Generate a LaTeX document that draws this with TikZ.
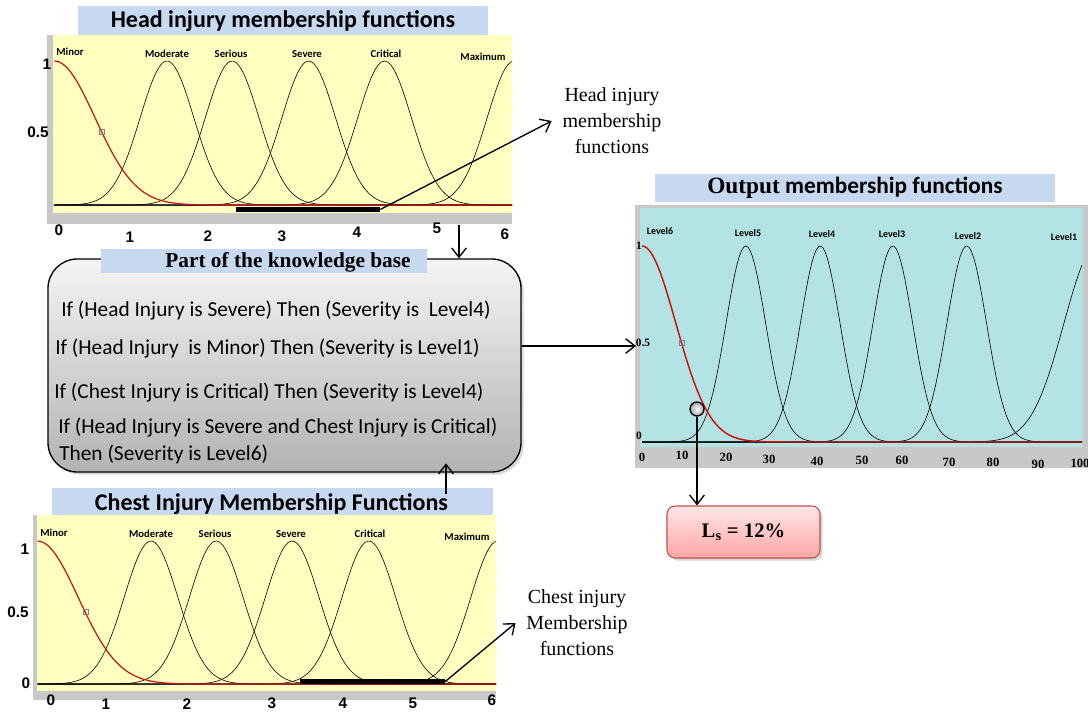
\documentclass[tikz,border=0pt]{standalone}
\usepackage{fontspec}
\setmainfont{Liberation Serif}
\newfontfamily\calibri{Carlito}
\newfontfamily\arial{Liberation Sans}
\usetikzlibrary{arrows.meta,shadows}

\definecolor{plotyellow}{HTML}{FFFFC0}
\definecolor{plotteal}{HTML}{B3E3E3}
\definecolor{framegray}{HTML}{C8C8C8}
\definecolor{barblue}{HTML}{C6D9F1}
\definecolor{curvered}{HTML}{CC1010}
\definecolor{lsred}{HTML}{C0504D}

\tikzset{
  px/.style={x=0.75pt,y=-0.75pt},
  titlebar/.style={fill=barblue, inner sep=0pt, font=\calibri\bfseries\fontsize{18}{21}\selectfont},
  mflabel/.style={font=\calibri\bfseries\fontsize{8}{9}\selectfont, inner sep=0pt},
  lvlabel/.style={font=\calibri\bfseries\fontsize{7.5}{9}\selectfont, inner sep=0pt},
  ticknum/.style={font=\arial\bfseries\fontsize{11.5}{13}\selectfont, inner sep=0pt},
  outnum/.style={font=\bfseries\fontsize{8.5}{10}\selectfont, inner sep=0pt},
  rule/.style={font=\calibri\fontsize{16}{19}\selectfont, anchor=base west, inner sep=0pt},
  note/.style={font=\fontsize{15}{19.5}\selectfont, align=center, inner xsep=8pt, inner ysep=2pt},
  mfline/.style={black, line width=0.45pt},
  redcurve/.style={curvered, line width=0.9pt},
  pointer/.style={-{Straight Barb[length=7pt,width=11pt]}, line width=1pt},
  memberbar/.style={fill=black, inner sep=0pt},
  kbbox/.style={draw, line width=1pt, rounded corners=22pt, top color=gray!8, bottom color=gray!60,
    drop shadow={opacity=0.3, shadow xshift=2pt, shadow yshift=-2pt}},
  lsbox/.style={draw=lsred, line width=0.8pt, rounded corners=6pt, top color=red!10, bottom color=red!35,
    drop shadow={opacity=0.3, shadow xshift=2pt, shadow yshift=-2pt}, font=\bfseries\fontsize{15.5}{18}\selectfont},
  marker/.style={circle, draw, line width=1pt, inner sep=0pt, minimum size=10.5pt, inner color=white, outer color=gray!70},
}

\begin{document}
\begin{tikzpicture}[px]
\useasboundingbox (0,0) rectangle (1088,712);

% head injury membership functions
\node[titlebar, minimum width=307.5pt, minimum height=22.5pt] (headtitle) at (283,21) {Head injury membership functions};
\fill[framegray] (47,35) rectangle (512,224);
\fill[plotyellow] (53,35) rectangle (512,213);
\draw[gray!70] (53,205) -- (512,205);
\begin{scope}
\clip (53,35) rectangle (512,213);
\foreach \c in {1.47,2.32,3.32,4.31,6}
  \draw[mfline] plot[domain=0:6,samples=150] ({54.4+76.6*\x},{205-144*exp(-((\x-\c)*(\x-\c))/0.245)});
\draw[redcurve] plot[domain=0:6,samples=150] ({54.4+76.6*\x},{205-144*exp(-(\x*\x)/0.562)});
\end{scope}
\draw[gray] (99.5,129.5) rectangle (104.5,134.5);
\foreach \t/\x/\y in {Minor/70/52, Moderate/167/54, Serious/231/54, Severe/307/54, Critical/386/54, Maximum/483/57}
  \node[mflabel] at (\x,\y) {\t};
\node[ticknum] at (47,64) {1};
\node[ticknum] at (38,132) {0.5};
\foreach \t/\x/\y in {0/59/230, 1/130/237, 2/208/236, 3/282/236, 4/357/232, 5/437/228, 6/505/234}
  \node[ticknum] at (\x,\y) {\t};
\node[memberbar, minimum width=108pt, minimum height=3.75pt] (headbar) at (308,209.5) {};
\node[note] (headnote) at (612,121) {Head injury\\membership\\functions};
\draw[pointer] (headbar.east) -- (headnote.west);

% knowledge base
\node[kbbox, minimum width=354.75pt, minimum height=159.75pt] (kb) at (284.5,365.5) {};
\node[fill=barblue, inner sep=0pt, minimum width=244.5pt, minimum height=18pt] (kbtitle) at (264,261) {};
\node[font=\bfseries\fontsize{16}{18}\selectfont, inner sep=0pt] (kbtext) at (288,262) {Part of the knowledge base};
\node[rule] (rule1) at (61,317) {If (Head Injury is Severe) Then (Severity is\ \ Level4)};
\node[rule] (rule2) at (55,355) {If (Head Injury\ \ is Minor) Then (Severity is Level1)};
\node[rule] (rule3) at (54,399) {If (Chest Injury is Critical) Then (Severity is Level4)};
\node[rule] (rule4) at (58,434) {If (Head Injury is Severe and Chest Injury is Critical)};
\node[rule] (rule5) at (59,460) {Then (Severity is Level6)};
\coordinate (headdown) at (459,225);
\draw[pointer] (headdown) -- (headdown |- kb.north);

% chest injury membership functions
\node[titlebar, minimum width=330.75pt, minimum height=20.25pt] (chesttitle) at (272.5,501.5) {};
\node[titlebar, fill=none, anchor=base] (chesttext) at (271.5,510) {Chest Injury Membership Functions};
\fill[framegray] (33,515) rectangle (496,700);
\fill[plotyellow] (37,515) rectangle (496,691);
\draw[gray!70] (37,684) -- (496,684);
\begin{scope}
\clip (37,515) rectangle (496,691);
\foreach \c in {1.48,2.33,3.32,4.32,6}
  \draw[mfline] plot[domain=0:6,samples=150] ({37.5+76.7*\x},{684-143*exp(-((\x-\c)*(\x-\c))/0.245)});
\draw[redcurve] plot[domain=0:6,samples=150] ({37.5+76.7*\x},{684-143*exp(-(\x*\x)/0.562)});
\end{scope}
\draw[gray] (83.5,609.5) rectangle (88.5,614.5);
\foreach \t/\x/\y in {Minor/54/533, Moderate/151/534, Serious/215/534, Severe/291/534, Critical/370/534, Maximum/467/537}
  \node[mflabel] at (\x,\y) {\t};
\node[ticknum] at (25,549) {1};
\node[ticknum] at (18,612) {0.5};
\node[ticknum] at (26,683) {0};
\foreach \t/\x/\y in {0/51/700, 1/106/704, 2/187/704, 3/272/703, 4/343/703, 5/413/703, 6/492/700}
  \node[ticknum] at (\x,\y) {\t};
\node[memberbar, minimum width=108.75pt, minimum height=3.75pt] (chestbar) at (372.5,681.5) {};
\node[note] (chestnote) at (577,623) {Chest injury\\Membership\\functions};
\draw[pointer] (chestbar.east) -- (chestnote.west);
\coordinate (chestup) at (446,494);
\draw[pointer, shorten >=-7pt] (chestup) -- (chestup |- kb.south);

% output membership functions
\node[titlebar, minimum width=300pt, minimum height=21pt, font=\calibri\bfseries\fontsize{17.5}{21}\selectfont] (outtitle) at (855,188) {{\rmfamily Output} membership functions};
\fill[framegray] (635,205) rectangle (1088,468);
\fill[plotteal] (640,208) rectangle (1083,447);
\draw[gray!70] (642,442) -- (1082,442);
\foreach \c in {23.6,40.5,57,73.8}
  \draw[mfline] plot[domain=0:100,samples=200] ({642+4.4*\x},{442-196*exp(-((\x-\c)*(\x-\c))/40.5)});
\draw[mfline] plot[domain=0:100,samples=150] ({642+4.4*\x},{442-196*exp(-((\x-103.4)*(\x-103.4))/112.5)});
\draw[redcurve, line width=1.1pt] plot[domain=0:100,samples=200] ({642+4.4*\x},{442-196*exp(-(\x*\x)/118)});
\draw[gray] (679.5,340.5) rectangle (684.5,345.5);
\foreach \t/\x/\y in {Level6/660/231, Level5/748/233, Level4/822/234, Level3/892/234, Level2/968/236, Level1/1064/237}
  \node[lvlabel] at (\x,\y) {\t};
\node[outnum] at (639,246) {1};
\node[outnum] at (643,343) {0.5};
\node[outnum] at (639,436) {0};
\foreach \t/\x/\y in {0/642/457, 10/682/455, 20/726/457, 30/769/459, 40/817/461, 50/862/460, 60/902/460, 70/949/462, 80/993/462, 90/1038/464, 100/1080/463}
  \node[outnum, font=\bfseries\fontsize{9.5}{11}\selectfont] at (\x,\y) {\t};
\coordinate (outhalf) at (636,346);
\draw[pointer] (kb.east |- outhalf) -- (outhalf);

% defuzzified value
\node[marker] (marker) at (697,409) {};
\node[lsbox, minimum width=114.75pt, minimum height=39pt] (ls) at (743.5,532) {L\textsubscript{s} = 12\%};
\draw[pointer] (marker.south) -- (marker.south |- ls.north);
\end{tikzpicture}
\end{document}
